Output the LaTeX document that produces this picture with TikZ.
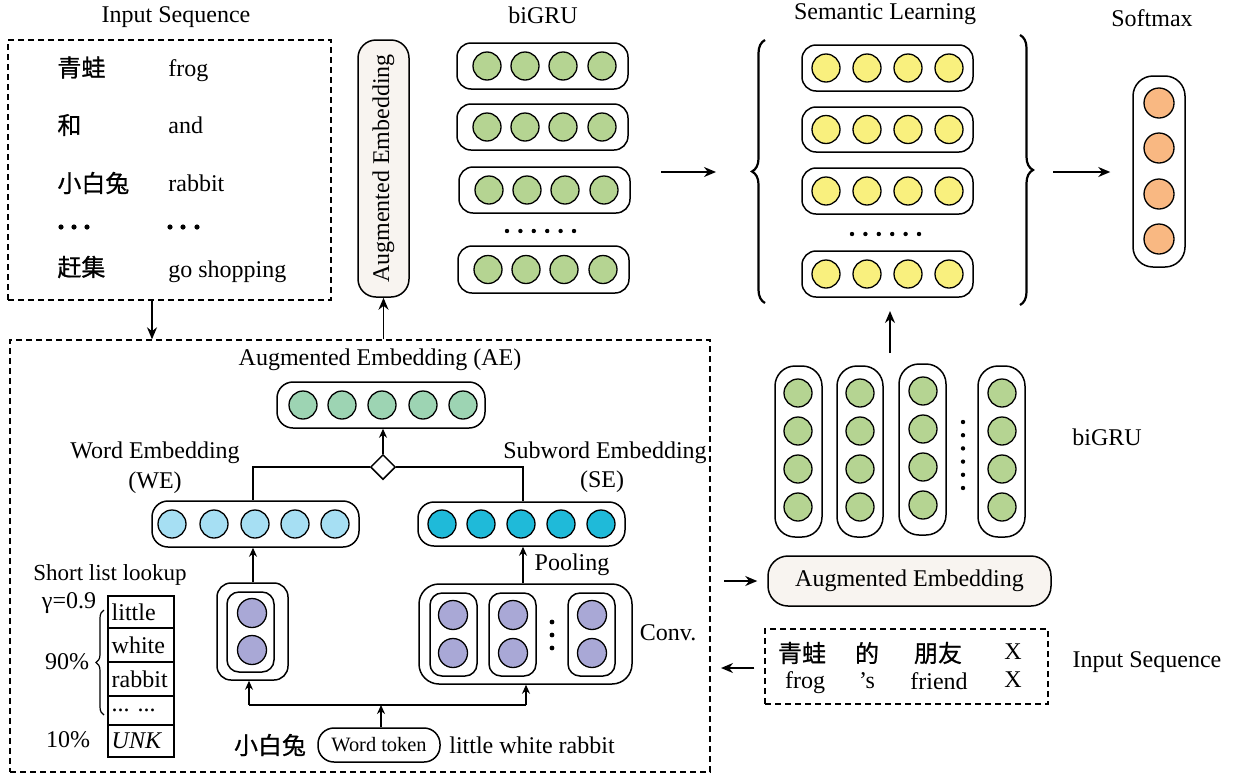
\documentclass[tikz,border=0pt]{standalone}
\usepackage{fontspec}
\setmainfont{Liberation Serif}
\newfontfamily\cjk[FakeBold=0.8]{Noto Sans CJK SC}
\usetikzlibrary{shapes.geometric,arrows.meta,fit,decorations.pathreplacing,calc}
\definecolor{grugreen}{RGB}{181,212,146}
\definecolor{semyellow}{RGB}{249,240,126}
\definecolor{softorange}{RGB}{249,184,130}
\definecolor{aegreen}{RGB}{157,212,179}
\definecolor{weblue}{RGB}{166,223,243}
\definecolor{secyan}{RGB}{31,186,217}
\definecolor{lav}{RGB}{169,168,214}
\definecolor{beige}{RGB}{248,244,240}
\begin{document}
\begin{tikzpicture}[x=0.5pt,y=-0.5pt,
  every node/.style={font=\fontsize{12}{14}\selectfont, inner sep=0pt},
  rbox/.style={draw, rounded corners=7pt, line width=0.75pt, inner sep=0pt},
  unit/.style={circle, draw, line width=0.65pt, minimum size=14pt, inner sep=0pt},
  arr/.style={-{Stealth[length=6pt,width=5pt]}, line width=0.75pt},
  sarr/.style={-{Stealth[length=4.5pt,width=4pt]}, line width=0.7pt},
  dbox/.style={draw, dash pattern=on 3pt off 2pt, line width=0.7pt},
  cjkt/.style={font=\fontsize{12}{14}\selectfont\cjk},
  cell/.style={draw, line width=0.7pt, inner sep=0pt},
  bracedec/.style={decorate, decoration={brace, amplitude=#1}},
]
\useasboundingbox (0,0) rectangle (1234,777);

% ---------------- top-left input sequence ----------------
\node (tin) at (176,17) {Input Sequence};
\node[dbox, fit={(8,40)(331,300)}] (inbox) {};
\node[cjkt, anchor=west] (c1) at (57,67.5) {青蛙};
\node[anchor=west] (e1) at (168,71) {frog};
\node[cjkt, anchor=west] (c2) at (57,125) {和};
\node[anchor=west] (e2) at (168,125.5) {and};
\node[cjkt, anchor=west] (c3) at (57,183) {小白兔};
\node[anchor=west] (e3) at (168,183) {rabbit};
\foreach \dx in {61,74,87,170,183,197} \fill (\dx,227) circle (1.3pt);
\node[cjkt, anchor=west] (c5) at (57,267) {赶集};
\node[anchor=west] (e5) at (168,271.5) {go shopping};

% ---------------- vertical augmented embedding ----------------
\node[draw, line width=0.75pt, rounded corners=9pt, fill=beige, fit={(358,40)(409,297)}] (vae) {};
\node[rotate=90] (vaet) at (vae.center) {Augmented Embedding};

% ---------------- top biGRU ----------------
\node (tgru) at (543,15) {biGRU};
\foreach \i/\ya/\yb/\sh in {1/43/89/0, 2/104/150/0, 3/167/213/2, 4/246/293/1} {
  \node[rbox, fit={({457+\sh},\ya)({628+\sh},\yb)}] (g\i) {};
  \foreach \j/\cx in {1/487,2/525,3/563,4/602}
    \node[unit, fill=grugreen] (g\i c\j) at ({\cx+\sh},{(\ya+\yb)/2}) {};
}
\foreach \k in {0,...,5} \fill ({507+13.4*\k},231) circle (1.1pt);

% ---------------- semantic learning ----------------
\node (tsem) at (885,14) {Semantic Learning};
\foreach \i/\ya/\yb in {1/45/91, 2/107/152, 3/168/214, 4/251/297} {
  \node[rbox, fit={(802,\ya)(973,\yb)}] (s\i) {};
  \foreach \j/\cx in {1/826,2/867,3/908,4/949}
    \node[unit, fill=semyellow] (s\i c\j) at (\cx,{(\ya+\yb)/2}) {};
}
\foreach \k in {0,...,5} \fill ({852+13.4*\k},234) circle (1.1pt);
\coordinate (lbb) at (765,303);
\coordinate (lbt) at (765,40);
\coordinate (rbt) at (1020,35);
\coordinate (rbb) at (1020,305);
\draw[bracedec=6.5pt, line width=1.1pt] (lbb) -- (lbt);
\draw[bracedec=6.5pt, line width=1.1pt] (rbt) -- (rbb);

% ---------------- softmax ----------------
\node (tsoft) at (1152,18) {Softmax};
\node[rbox, rounded corners=10pt, fit={(1133,76)(1185,267)}] (soft) {};
\foreach \j/\cy in {1/103,2/148,3/194,4/239}
  \node[unit, minimum size=15pt, fill=softorange] (o\j) at (1159,\cy) {};

% ---------------- top arrows ----------------
\coordinate (a1s) at (661,172);
\coordinate (a1e) at (716,172);
\draw[arr] (a1s) -- (a1e);
\coordinate (a2s) at (1053,172);
\draw[arr, shorten >=11pt] (a2s) -- (a2s -| soft.west);

% ---------------- right biGRU columns ----------------
\foreach \i/\xa/\xb/\cx/\dy in {1/775/822/798/0, 2/837/883/860/0, 3/899/946/923/-2, 4/978/1025/1002/0} {
  \node[rbox, rounded corners=10pt, fit={(\xa,{366+\dy})(\xb,{537+\dy})}] (r\i) {};
  \foreach \j/\cy in {1/393,2/431,3/469,4/507}
    \node[unit, fill=grugreen] (r\i c\j) at (\cx,{\cy+\dy}) {};
}
\foreach \k in {0,...,5} \fill (963,{422+13.2*\k}) circle (1.1pt);
\node (tgru2) at (1107,437) {biGRU};
\coordinate (a3s) at (890,353);
\coordinate (a3e) at (890,311);
\draw[arr] (a3s) -- (a3e);

% augmented embedding horizontal
\node[draw, line width=0.75pt, rounded corners=10pt, fill=beige, fit={(768,556)(1051,606)}] (hae) {};
\node (haet) at (hae.center) {Augmented Embedding};
\coordinate (a4s) at (724,581);
\draw[arr, shorten >=5pt] (a4s) -- (a4s -| hae.west);

% bottom-right input sequence
\node[dbox, fit={(765,629)(1048,704)}] (inbox2) {};
\node[cjkt] (bc1) at (802,653) {青蛙};
\node[cjkt] (bc2) at (867,653) {的};
\node[cjkt] (bc3) at (938,653) {朋友};
\node (bc4) at (1013,652) {X};
\node (be1) at (805,683) {frog};
\node (be2) at (867,681) {’s};
\node (be3) at (939,681) {friend};
\node (be4) at (1013,680) {X};
\node (tin2) at (1147,662) {Input Sequence};
\coordinate (a5e) at (721,668);
\draw[arr, shorten <=5pt] (a5e -| inbox2.west) -- (a5e);

% ---------------- lower-left big dashed box ----------------
\node[dbox, fit={(10,340)(710,772)}] (lowbox) {};
\draw[arr] ([xshift=-8.75pt]inbox.south) -- ([xshift=-8.75pt]inbox.south |- lowbox.north);
\draw[arr] (lowbox.north -| vae.south) -- (vae.south);

% AE
\node (tae) at (380,360) {Augmented Embedding (AE)};
\node[rbox, rounded corners=8pt, fit={(277,382)(485,428)}] (ae) {};
\foreach \j/\cx in {1/303,2/342,3/382,4/423,5/463}
  \node[unit, fill=aegreen] (ae\j) at (\cx,405) {};

\node[diamond, draw, fill=white, line width=0.75pt, minimum size=12.5pt] (dia) at (383,467) {};
\draw[sarr] (dia.north) -- (dia.north |- ae.south);

% WE
\node (twe1) at (155,453) {Word Embedding};
\node (twe2) at (155,483) {(WE)};
\node[rbox, rounded corners=8pt, fit={(152,501)(359,547)}] (we) {};
\foreach \j/\cx in {1/172,2/214,3/255,4/295,5/335}
  \node[unit, fill=weblue] (we\j) at (\cx,524) {};

% SE
\node (tse1) at (605,453) {Subword Embedding};
\node (tse2) at (602,482) {(SE)};
\node[rbox, rounded corners=8pt, fit={(418,502)(625,546)}] (se) {};
\foreach \j/\cx in {1/442,2/481,3/521,4/561,5/601}
  \node[unit, fill=secyan] (se\j) at (\cx,524) {};

\coordinate (wex) at (253,0);
\coordinate (sex) at (523,0);
\draw[line width=0.75pt] (dia.west) -| (wex |- we.north);
\draw[line width=0.75pt] (dia.east) -| (sex |- se.north);

% left cell
\node[rbox, rounded corners=7pt, fit={(217,583)(288,680)}] (lcell) {};
\node[rbox, rounded corners=6pt, fit={(227,592)(274,672)}] (lcelli) {};
\node[unit, minimum size=14.5pt, fill=lav] (lc1) at (252,613) {};
\node[unit, minimum size=14.5pt, fill=lav] (lc2) at (252,650) {};
\draw[sarr] (wex |- lcell.north) -- (wex |- we.south);

% conv
\node[rbox, rounded corners=10pt, fit={(419,584)(632,684)}] (conv) {};
\foreach \i/\xa/\xb/\cx in {1/430/477/453, 2/489/536/513, 3/568/615/592} {
  \node[rbox, rounded corners=6pt, fit={(\xa,593)(\xb,676)}] (cv\i) {};
  \node[unit, minimum size=14.5pt, fill=lav] (cv\i a) at (\cx,615) {};
  \node[unit, minimum size=14.5pt, fill=lav] (cv\i b) at (\cx,653) {};
}
\foreach \dy in {622,635,648} \fill (552,\dy) circle (1.2pt);
\node (tconv) at (668,633) {Conv.};
\node (tpool) at (572,565) {Pooling};
\draw[sarr] (sex |- conv.north) -- (sex |- se.south);

% short list lookup
\node[font=\fontsize{11.5}{13}\selectfont] (tsl) at (110,575) {Short list lookup};
\foreach \i/\ya/\yb/\txt in {1/596/628/little, 2/628/662/white, 3/662/696/rabbit, 4/696/725/{... ...}, 5/725/757/{\textit{UNK}}} {
  \node[cell, fit={(108,\ya)(174,\yb)}] (tab\i) {};
  \node[anchor=west] (tabt\i) at ([xshift=2pt]tab\i.west) {\txt};
}
\node (tg) at (69,603) {γ=0.9};
\coordinate (sbb) at (104,715);
\coordinate (sbt) at (104,610);
\draw[bracedec=4pt, line width=0.6pt] (sbb) -- (sbt);
\node (t90) at (67,662) {90\%};
\node (t10) at (68,740) {10\%};

% word token
\node[rbox, rounded corners=8pt, fit={(318,728)(440,762)}] (wt) {};
\node[font=\fontsize{10.2}{12}\selectfont] (wtt) at (wt.center) {Word token};
\node[cjkt] (xbt) at (270,745) {小白兔};
\node (lwr) at (532,745) {little white rabbit};
\coordinate (bus) at (381,705);
\draw[sarr] (bus |- wt.north) -- (bus);
\draw[line width=0.7pt] (bus -| 249,0) -- (bus -| 526,0);
\draw[sarr] (bus -| 249,0) -- (249,0 |- lcell.south);
\draw[sarr] (bus -| 526,0) -- (526,0 |- conv.south);
\end{tikzpicture}
\end{document}
